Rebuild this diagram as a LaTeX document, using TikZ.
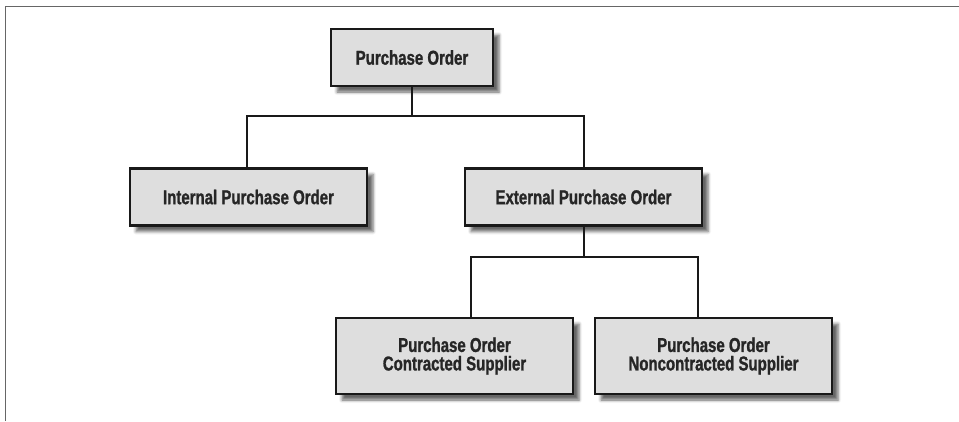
\documentclass[tikz,border=0pt]{standalone}
\usepackage{fontspec}
\newfontfamily\boxfont[FakeStretch=0.75,BoldFeatures={FakeStretch=0.75,FakeBold=1.2}]{Liberation Sans}
\usetikzlibrary{positioning,shadows.blur}

\begin{document}
\begin{tikzpicture}[x=1pt,y=-1pt,
  classbox/.style={draw=black!90,line width=2.4pt,fill=black!4!gray!25,
    minimum width=237pt,minimum height=57pt,inner sep=0pt,align=center,
    text=black!85,font=\boxfont\bfseries\fontsize{20}{18.5}\selectfont,
    blur shadow={shadow xshift=6pt,shadow yshift=-6pt,shadow blur radius=3pt,shadow opacity=60}},
  link/.style={draw=black!90,line width=2pt}]
\useasboundingbox (0,0) rectangle (959,421);
% frame
\draw[gray!80!black,line width=0.9pt] (5,421) -- (5,6) -- (959,6);
% nodes
\node[classbox,minimum width=162pt] (po) at (412,57.5) {Purchase Order};
\node[classbox] (int) at (248.5,197) {Internal Purchase Order};
\node[classbox] (ext) at (583.5,197) {External Purchase Order};
\node[classbox,minimum height=76pt] (con) at (454.5,356) {Purchase Order\\Contracted Supplier};
\node[classbox,minimum height=76pt] (non) at (713.5,356) {Purchase Order\\Noncontracted Supplier};
% connectors
\coordinate (j1) at (412,116);
\coordinate (j2) at (583.5,257);
\draw[link] (po.south) -- (j1);
\draw[link] (int.north -| 247,0) |- (j1) -| (ext.north);
\draw[link] (ext.south) -- (j2);
\draw[link] (con.north -| 471,0) |- (j2) -| (non.north -| 698,0);
\end{tikzpicture}
\end{document}
